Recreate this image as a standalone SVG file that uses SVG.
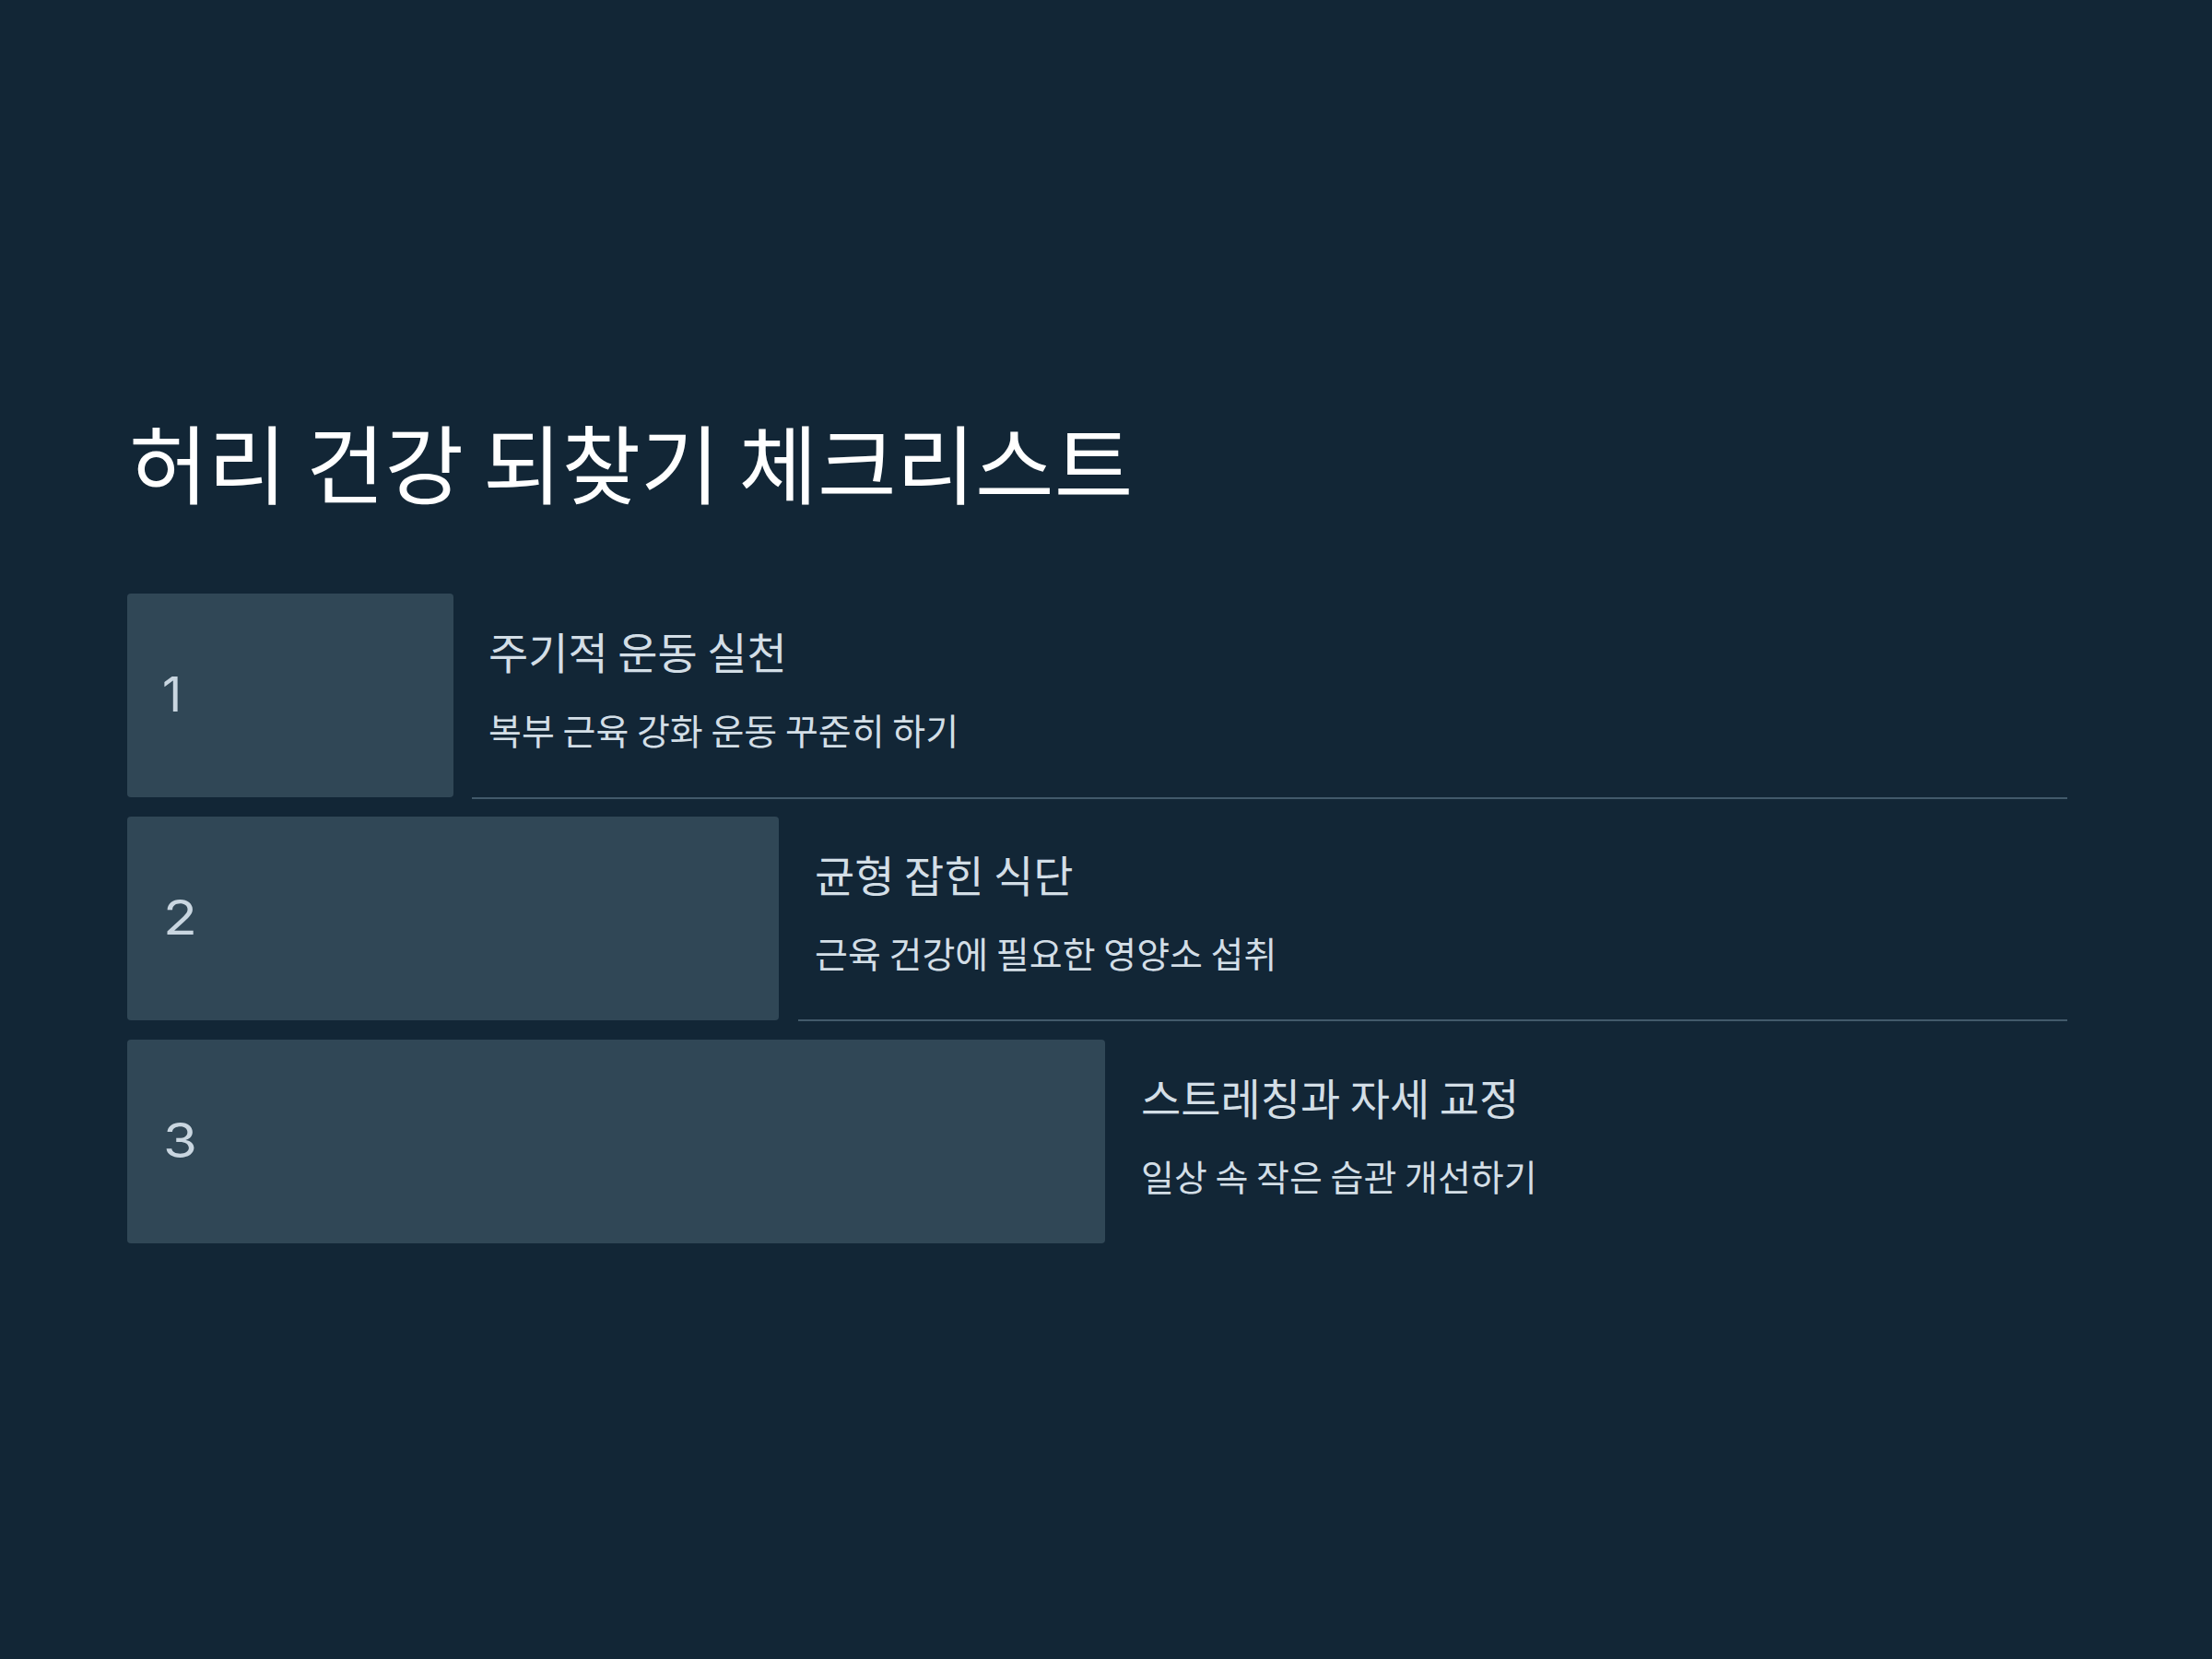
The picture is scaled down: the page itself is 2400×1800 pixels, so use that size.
<svg xmlns="http://www.w3.org/2000/svg" width="2400" height="1800" viewBox="0 0 2400 1800">
<style>
.bg{fill:#122636}
.box{fill:#304756}
.sep{stroke:#425a6b;stroke-width:2}
.title{font-family:"Noto Sans CJK KR","Noto Sans",sans-serif;font-size:93px;fill:#ffffff}
.num{font-family:Inter,"Liberation Sans",sans-serif;font-size:52px;fill:#c9d6e0}
.h{font-family:"Noto Sans CJK KR","Noto Sans",sans-serif;font-size:47px;fill:#d3dee6}
.s{font-family:"Noto Sans CJK KR","Noto Sans",sans-serif;font-size:39px;fill:#d3dee6}
</style>
<rect class="bg" x="0" y="0" width="2400" height="1800"/>
<g id="title"><text class="title" x="140" y="540">허리 건강 되찾기 체크리스트</text></g>
<g id="connectors">
<line class="sep" x1="512" y1="866" x2="2243" y2="866"/>
<line class="sep" x1="866" y1="1107" x2="2243" y2="1107"/>
</g>
<g id="item1">
<rect class="box" x="138" y="644" width="354" height="221" rx="4"/>
<text class="num" x="176" y="772">1</text>
<text class="h" x="530" y="726">주기적 운동 실천</text>
<text class="s" x="530" y="808">복부 근육 강화 운동 꾸준히 하기</text>
</g>
<g id="item2">
<rect class="box" x="138" y="886" width="707" height="221" rx="4"/>
<text class="num" x="177" y="1014" textLength="37" lengthAdjust="spacingAndGlyphs">2</text>
<text class="h" x="884" y="968">균형 잡힌 식단</text>
<text class="s" x="884" y="1050">근육 건강에 필요한 영양소 섭취</text>
</g>
<g id="item3">
<rect class="box" x="138" y="1128" width="1061" height="221" rx="4"/>
<text class="num" x="177" y="1256" textLength="37" lengthAdjust="spacingAndGlyphs">3</text>
<text class="h" x="1238" y="1210">스트레칭과 자세 교정</text>
<text class="s" x="1238" y="1292">일상 속 작은 습관 개선하기</text>
</g>
</svg>
